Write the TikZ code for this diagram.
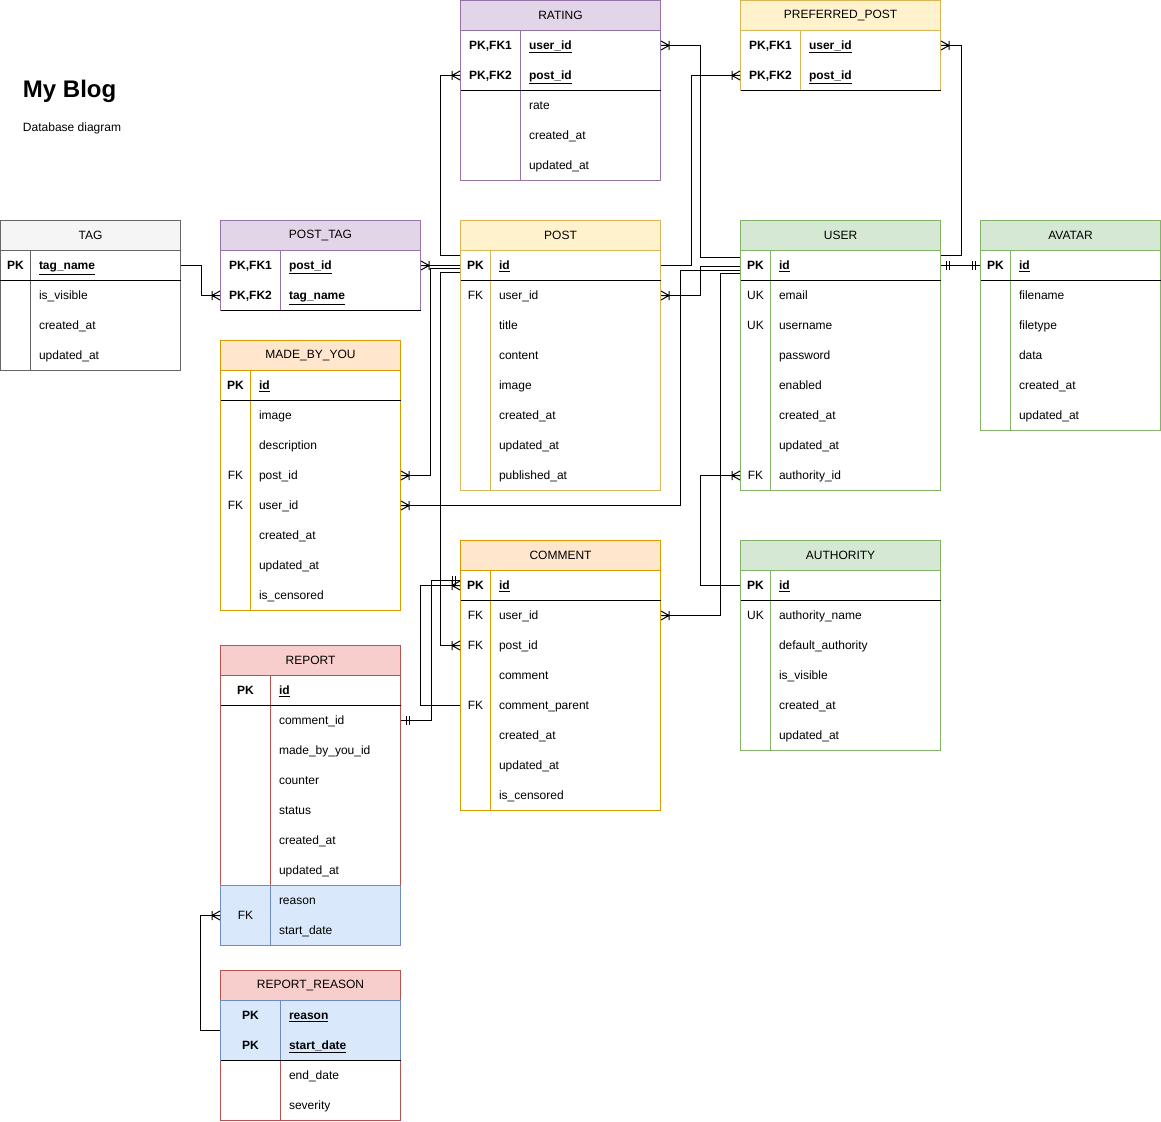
\documentclass[tikz,border=0pt]{standalone}
\usepackage{fontspec}
\setmainfont{Liberation Sans}
\usetikzlibrary{arrows}
\definecolor{fillPurple}{HTML}{E1D5E7}\definecolor{linePurple}{HTML}{9673A6}
\definecolor{fillYellow}{HTML}{FFF2CC}\definecolor{lineYellow}{HTML}{D6B656}
\definecolor{fillGreen}{HTML}{D5E8D4}\definecolor{lineGreen}{HTML}{82B366}
\definecolor{fillOrange}{HTML}{FFE6CC}\definecolor{lineOrange}{HTML}{D79B00}
\definecolor{fillRed}{HTML}{F8CECC}\definecolor{lineRed}{HTML}{B85450}
\definecolor{fillGrey}{HTML}{F5F5F5}\definecolor{lineGrey}{HTML}{666666}
\definecolor{fillBlue}{HTML}{DAE8FC}\definecolor{lineBlue}{HTML}{6C8EBF}
\newcommand{\erfont}{\fontsize{12}{14}\selectfont}
\newcommand{\pkey}[1]{\textbf{\underline{#1}}}
% crow's foot (one or many) and double bar (one and only one)
\pgfarrowsdeclare{crow}{crow}
{\pgfarrowsleftextend{-9pt}\pgfarrowsrightextend{0pt}}
{
  \pgfsetdash{}{0pt}
  \pgfpathmoveto{\pgfqpoint{-8pt}{0pt}}\pgfpathlineto{\pgfqpoint{0pt}{4.5pt}}
  \pgfpathmoveto{\pgfqpoint{-8pt}{0pt}}\pgfpathlineto{\pgfqpoint{0pt}{-4.5pt}}
  \pgfpathmoveto{\pgfqpoint{-8pt}{0pt}}\pgfpathlineto{\pgfqpoint{0pt}{0pt}}
  \pgfpathmoveto{\pgfqpoint{-8pt}{4.5pt}}\pgfpathlineto{\pgfqpoint{-8pt}{-4.5pt}}
  \pgfusepathqstroke
}
\pgfarrowsdeclare{mone}{mone}
{\pgfarrowsleftextend{-9pt}\pgfarrowsrightextend{0pt}}
{
  \pgfsetdash{}{0pt}
  \pgfpathmoveto{\pgfqpoint{-5pt}{4.5pt}}\pgfpathlineto{\pgfqpoint{-5pt}{-4.5pt}}
  \pgfpathmoveto{\pgfqpoint{-8pt}{4.5pt}}\pgfpathlineto{\pgfqpoint{-8pt}{-4.5pt}}
  \pgfpathmoveto{\pgfqpoint{-9pt}{0pt}}\pgfpathlineto{\pgfqpoint{0pt}{0pt}}
  \pgfusepathqstroke
}
\tikzstyle{hdr}=[draw,minimum height=30pt,inner sep=0pt,font=\erfont]
\tikzstyle{key}=[inner sep=0pt,text height=8.6pt,text depth=0pt,font=\erfont]
\tikzstyle{fld}=[key,anchor=west]
\tikzstyle{edge}=[draw,line width=1pt,-crow]
\tikzstyle{oneone}=[draw,line width=1pt,mone-mone]

\begin{document}
\begin{tikzpicture}[x=1pt,y=-1pt,line width=1pt]
\useasboundingbox (-0.5,-0.5) rectangle (1160.5,1120.5);

\node[anchor=west,inner sep=0pt,font=\bfseries\fontsize{24}{28}\selectfont] (title) at (22,91) {My Blog};
\node[anchor=west,inner sep=0pt,font=\erfont] (subtitle) at (22,128) {Database diagram};

% First the table frames
\foreach \tb/\lbl/\x/\y/\w/\h/\k/\s/\col in {
  rating/RATING/460/0/200/150/60/90/Purple,
  pref/PREFERRED\_POST/740/0/200/60/60/90/Yellow,
  tag/TAG/0/220/180/120/30/280/Grey,
  ptag/POST\_TAG/220/220/200/60/60/310/Purple,
  mby/MADE\_BY\_YOU/220/340/180/240/30/400/Orange,
  post/POST/460/220/200/240/30/280/Yellow,
  user/USER/740/220/200/240/30/280/Green,
  avatar/AVATAR/980/220/180/180/30/280/Green,
  cmt/COMMENT/460/540/200/240/30/600/Orange,
  auth/AUTHORITY/740/540/200/180/30/600/Green,
  rep/REPORT/220/645/180/270/50/705/Red,
  rr/REPORT\_REASON/220/970/180/120/60/1060/Red}
{
  \draw[draw=line\col] (\x,\y+30) rectangle ++(\w,\h);
  \draw[draw=line\col] (\x+\k,\y+30) -- ++(0,\h);
  \draw (\x,\s) -- ++(\w,0);
  \node[hdr,fill=fill\col,draw=line\col,minimum width=\w pt] (\tb) at (\x+\w/2,\y+15) {\lbl};
}
\draw[fill=fillBlue,draw=lineBlue] (220,885) rectangle (400,945);
\draw[lineBlue] (270,885) -- (270,945);
\draw[fill=fillBlue,draw=lineBlue] (220,1000) rectangle (400,1060);
\draw[lineBlue] (280,1000) -- (280,1060);
\draw (220,1060) -- (400,1060);

% Then the rows
\foreach \y/\k/\f/\n in {45/{\textbf{PK,FK1}}/\pkey{user\_id}/uid, 75/{\textbf{PK,FK2}}/\pkey{post\_id}/pid,
  105//rate/rate, 135//created\_at/cre, 165//updated\_at/upd}
{ \node[key] (rating-\n-k) at (490,\y) {\k}; \node[fld] (rating-\n) at (528,\y) {\f}; }

\foreach \y/\k/\f/\n in {45/{\textbf{PK,FK1}}/\pkey{user\_id}/uid, 75/{\textbf{PK,FK2}}/\pkey{post\_id}/pid}
{ \node[key] (pref-\n-k) at (770,\y) {\k}; \node[fld] (pref-\n) at (808,\y) {\f}; }

\foreach \y/\k/\f/\n in {265/\textbf{PK}/\pkey{tag\_name}/tname, 295//is\_visible/vis,
  325//created\_at/cre, 355//updated\_at/upd}
{ \node[key] (tag-\n-k) at (15,\y) {\k}; \node[fld] (tag-\n) at (38,\y) {\f}; }

\foreach \y/\k/\f/\n in {265/{\textbf{PK,FK1}}/\pkey{post\_id}/pid, 295/{\textbf{PK,FK2}}/\pkey{tag\_name}/tname}
{ \node[key] (ptag-\n-k) at (250,\y) {\k}; \node[fld] (ptag-\n) at (288,\y) {\f}; }

\foreach \y/\k/\f/\n in {385/\textbf{PK}/\pkey{id}/id, 415//image/img, 445//description/desc,
  475/FK/post\_id/pid, 505/FK/user\_id/uid, 535//created\_at/cre, 565//updated\_at/upd,
  595//is\_censored/cens}
{ \node[key] (mby-\n-k) at (235,\y) {\k}; \node[fld] (mby-\n) at (258,\y) {\f}; }

\foreach \y/\k/\f/\n in {265/\textbf{PK}/\pkey{id}/id, 295/FK/user\_id/uid, 325//title/title,
  355//content/cont, 385//image/img, 415//created\_at/cre, 445//updated\_at/upd,
  475//published\_at/pub}
{ \node[key] (post-\n-k) at (475,\y) {\k}; \node[fld] (post-\n) at (498,\y) {\f}; }

\foreach \y/\k/\f/\n in {265/\textbf{PK}/\pkey{id}/id, 295/UK/email/mail, 325/UK/username/uname,
  355//password/pw, 385//enabled/en, 415//created\_at/cre, 445//updated\_at/upd,
  475/FK/authority\_id/aid}
{ \node[key] (user-\n-k) at (755,\y) {\k}; \node[fld] (user-\n) at (778,\y) {\f}; }

\foreach \y/\k/\f/\n in {265/\textbf{PK}/\pkey{id}/id, 295//filename/fname, 325//filetype/ftype,
  355//data/data, 385//created\_at/cre, 415//updated\_at/upd}
{ \node[key] (avatar-\n-k) at (995,\y) {\k}; \node[fld] (avatar-\n) at (1018,\y) {\f}; }

\foreach \y/\k/\f/\n in {585/\textbf{PK}/\pkey{id}/id, 615/FK/user\_id/uid, 645/FK/post\_id/pid,
  675//comment/txt, 705/FK/comment\_parent/par, 735//created\_at/cre, 765//updated\_at/upd,
  795//is\_censored/cens}
{ \node[key] (cmt-\n-k) at (475,\y) {\k}; \node[fld] (cmt-\n) at (498,\y) {\f}; }

\foreach \y/\k/\f/\n in {585/\textbf{PK}/\pkey{id}/id, 615/UK/authority\_name/aname,
  645//default\_authority/def, 675//is\_visible/vis, 705//created\_at/cre, 735//updated\_at/upd}
{ \node[key] (auth-\n-k) at (755,\y) {\k}; \node[fld] (auth-\n) at (778,\y) {\f}; }

\foreach \y/\k/\f/\n in {690/\textbf{PK}/\pkey{id}/id, 720//comment\_id/cid, 750//made\_by\_you\_id/mid,
  780//counter/cnt, 810//status/stat, 840//created\_at/cre, 870//updated\_at/upd,
  900//reason/reason, 930//start\_date/sdate, 915/FK//fk}
{ \node[key] (rep-\n-k) at (245,\y) {\k}; \node[fld] (rep-\n) at (278,\y) {\f}; }

\foreach \y/\k/\f/\n in {1015/\textbf{PK}/\pkey{reason}/reason, 1045/\textbf{PK}/\pkey{start\_date}/sdate,
  1075//end\_date/edate, 1105//severity/sev}
{ \node[key] (rr-\n-k) at (250,\y) {\k}; \node[fld] (rr-\n) at (288,\y) {\f}; }

% Connect the tables
\path[edge] (tag-tname -| tag.east) -- ++(20,0) |- (ptag-tname -| ptag.west);
\path[edge] (post-id -| post.west) -- (ptag-pid -| ptag.east);
\path[edge] ([yshift=10pt]post-id -| post.west) -- ++(-20,0) |- (rating-pid -| rating.west);
\path[edge] ([yshift=-3pt]post-id -| post.west) -- ++(-30,0) |- (mby-pid -| mby.east);
\path[edge] ([yshift=-7pt]post-id -| post.west) -- ++(-20,0) |- (cmt-pid -| cmt.west);
\path[edge] (post-id -| post.east) -- ++(30,0) |- (pref-pid -| pref.west);

\path[edge] ([yshift=8pt]user-id -| user.west) -- ++(-40,0) |- (rating-uid -| rating.east);
\path[edge] ([yshift=-1pt]user-id -| user.west) -- ++(-40,0) |- (post-uid -| post.east);
\path[edge] ([yshift=-5pt]user-id -| user.west) -- ++(-60,0) |- (mby-uid -| mby.east);
\path[edge] ([yshift=-8pt]user-id -| user.west) -- ++(-20,0) |- (cmt-uid -| cmt.east);
\path[edge] ([yshift=10pt]user-id -| user.east) -- ++(20,0) |- (pref-uid -| pref.east);
\path[oneone] (user-id -| user.east) -- (avatar-id -| avatar.west);
\path[edge] (auth-id -| auth.west) -- ++(-40,0) |- (user-aid -| user.west);

\path[oneone] (rep-cid -| rep.east) -- ++(30,0) |- ([yshift=5pt]cmt-id -| cmt.west);
\path[edge] (cmt-par -| cmt.west) -- ++(-40,0) |- (cmt-id -| cmt.west);
\path[edge] ([yshift=-15pt]rr-reason -| rr.west) -- ++(-20,0) |- (rep-fk-k -| rep.west);
\end{tikzpicture}
\end{document}
